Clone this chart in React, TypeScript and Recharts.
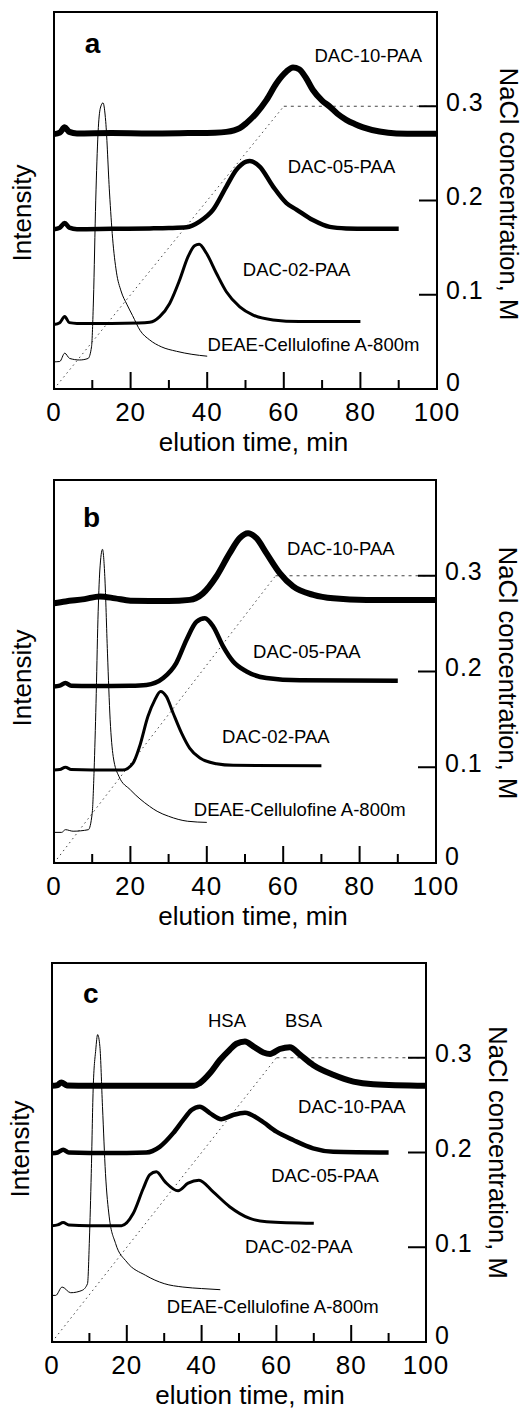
import React from 'react';
import { ComposedChart, Line, XAxis, YAxis, ReferenceDot, Label } from 'recharts';

type Pt = [number, number];

const FONT = '"Liberation Sans", Arial, Helvetica, sans-serif';

// ---------- axes ----------
const timeTicks = [0, 10, 20, 30, 40, 50, 60, 70, 80, 90, 100];
const timeTickLabels = ['0', '', '20', '', '40', '', '60', '', '80', '', '100'];
const naclTicks = [0, 0.1, 0.2, 0.3];
const naclTickLabels = ['0', '0.1', '0.2', '0.3'];

// ---------- panel a ----------
const aDEAE: Pt[] = [[0, 7.2], [1.5, 7.3], [2.8, 9.5], [4.1, 8.1], [6.7, 7.7], [8.9, 8.1], [9.8, 11.2], [10.3, 23.6], [10.9, 50.1], [11.5, 67.9], [12.1, 74.5], [12.8, 75.9], [13.5, 71], [14.5, 52], [15.3, 40], [16.3, 31], [17.5, 26], [19, 22.5], [20.5, 19.5], [22.5, 15.5], [25, 13], [28, 11.2], [32, 10], [36, 9.2], [40, 8.7]];
const aDAC02: Pt[] = [[0, 17.1], [1.5, 17.6], [2.8, 19.2], [4, 17.6], [6, 17.4], [15, 17.4], [22, 17.5], [25, 17.7], [27.6, 19.2], [30.2, 22.7], [32.8, 28.9], [35, 35.1], [36.7, 38], [37.9, 38.4], [39.8, 36], [42.4, 30.7], [45, 25.8], [48.5, 21.8], [52, 19.6], [57.2, 18.3], [64, 17.9], [80, 17.9]];
const aDAC05: Pt[] = [[0, 42.4], [1.5, 42.8], [2.8, 44], [4, 42.8], [6, 42.4], [15, 42.5], [25, 42.6], [30, 42.7], [34.6, 42.9], [38, 44.4], [41.5, 47.5], [45, 53.7], [47.6, 58.1], [50.2, 60.3], [51.1, 60.5], [53.7, 59], [57.2, 53.7], [60.7, 49.3], [63.3, 47.6], [67.6, 44.8], [72, 43], [76.3, 42.6], [82, 42.5], [90, 42.5]];
const aDAC10: Pt[] = [[0, 67.6], [1.5, 68], [2.8, 69.4], [4, 68.2], [6, 67.8], [15, 67.9], [25, 67.8], [35, 67.9], [42, 68], [45, 68.2], [48.5, 69.2], [50.2, 70.5], [52.8, 73.1], [55.5, 76.7], [58.1, 81.1], [60.7, 84.2], [62.4, 85.3], [64, 84.8], [65.8, 82.5], [67.6, 79.3], [70, 76.5], [72, 74.9], [74, 73], [76.3, 71.4], [78.5, 70.3], [80.7, 69.4], [85, 68.3], [89.4, 67.8], [95, 67.7], [100, 67.7]];
const aNaClRamp: Pt[] = [[0, 0], [60, 0.3]];
const aNaClHold: Pt[] = [[60, 0.3], [100, 0.3]];

// ---------- panel b ----------
const bDEAE: Pt[] = [[0, 8], [2, 8], [3, 8.7], [5, 8.3], [9, 8.7], [10, 13], [10.5, 24.3], [11, 41.7], [11.5, 63.5], [12, 76.5], [12.7, 81.9], [13.3, 74.8], [14, 54.8], [14.7, 37.4], [15.5, 27.8], [17, 22.6], [20, 19.1], [25, 14.8], [27, 13.5], [30, 12.2], [35, 10.9], [40, 10.6]];
const bDAC02: Pt[] = [[0, 24.3], [1.5, 24.4], [3, 25], [4.5, 24.4], [10, 24.3], [18, 24.3], [20.7, 26.1], [22.4, 30.4], [24.6, 38.3], [26.4, 42.6], [27.9, 44.8], [29.4, 43.5], [31.2, 39.1], [33.4, 33.9], [35.5, 30], [38.2, 27.4], [42.5, 25.9], [46.9, 25.5], [70, 25.4]];
const bDAC05: Pt[] = [[0, 46.1], [1.5, 46.3], [3, 47], [4.5, 46.3], [10, 46.2], [20, 46.3], [24.2, 46.5], [28.6, 48.3], [32, 52.2], [34.7, 58.3], [37.3, 63], [39.5, 63.9], [41.7, 61.7], [44.3, 56.5], [46.9, 52.6], [50.4, 50], [55.6, 48.3], [64.4, 47.7], [90, 47.6]];
const bDAC10: Pt[] = [[0, 67.8], [3, 68.3], [8, 68.9], [12, 69.6], [16, 69.1], [20, 68.5], [30, 68.4], [35.5, 68.7], [39, 70.4], [42.5, 74.8], [46, 80.9], [48.6, 84.8], [50.8, 86.1], [53, 84.8], [55.6, 80.9], [59.1, 75.7], [62.6, 72.2], [67.9, 70], [73.1, 69.1], [81.8, 68.7], [100, 68.7]];
const bNaClRamp: Pt[] = [[0, 0], [58, 0.3]];
const bNaClHold: Pt[] = [[58, 0.3], [100, 0.3]];

// ---------- panel c ----------
const cDEAE: Pt[] = [[0, 12.3], [1, 12.3], [2.7, 14.5], [5, 13], [8, 13.6], [9.5, 15.4], [10, 26.9], [10.5, 44.5], [11, 66.5], [11.7, 77.1], [12.2, 81.1], [12.8, 78], [13.5, 62.1], [14.3, 44.5], [15.3, 33], [17, 26], [20, 21.1], [25, 17.6], [30, 15.4], [35, 14.5], [40, 14.1], [45, 13.8]];
const cDAC02: Pt[] = [[0, 30.7], [1.5, 30.9], [3, 31.5], [4.5, 30.9], [10, 30.7], [18.6, 30.7], [21.7, 33.9], [24.4, 40.5], [26.1, 44.1], [27.9, 44.9], [30.2, 42.3], [33.7, 39.9], [36.4, 41.9], [39.3, 42.7], [43.1, 39.6], [47.5, 35.7], [52.9, 32.6], [57.4, 31.7], [70, 31.3]];
const cDAC05: Pt[] = [[0, 49.8], [1.5, 50], [3, 50.7], [4.5, 50], [10, 49.9], [20, 49.9], [25.2, 50], [28.8, 51.5], [32.4, 55.1], [35.1, 58.6], [37.3, 61.2], [39.5, 62.1], [42.2, 60.4], [45.3, 58.8], [48.4, 59.9], [51.6, 60.5], [55.6, 58.6], [60, 55.5], [64.5, 53.3], [69.8, 51.1], [75.2, 50.2], [90, 50]];
const cDAC10: Pt[] = [[0, 67.6], [1.5, 67.8], [2.5, 68.5], [4, 67.7], [10, 67.6], [20, 67.6], [30, 67.6], [38, 67.6], [39.5, 68.3], [42.2, 70.9], [44.9, 74.4], [47.5, 77.1], [49.3, 78.7], [51.6, 79.3], [53.8, 78], [56.5, 76.4], [58.3, 76], [60.9, 77.3], [63.6, 77.8], [66.3, 75.8], [69.8, 73.1], [75.2, 70.5], [80.6, 68.7], [85.9, 68], [100, 67.6]];
const cNaClRamp: Pt[] = [[0, 0], [60, 0.3]];
const cNaClHold: Pt[] = [[60, 0.3], [100, 0.3]];

// ---------- annotations (text, time, intensity) ----------
type Note = { text: string; t: number; v: number; bold?: boolean };
const aNotes: Note[] = [
  { text: 'a', t: 8.0, v: 89.1, bold: true },
  { text: 'DAC-10-PAA', t: 68, v: 86.8 },
  { text: 'DAC-05-PAA', t: 61, v: 57.3 },
  { text: 'DAC-02-PAA', t: 49.3, v: 30 },
  { text: 'DEAE-Cellulofine A-800m', t: 40.1, v: 10.1 },
];
const bNotes: Note[] = [
  { text: 'b', t: 7.6, v: 87.7, bold: true },
  { text: 'DAC-10-PAA', t: 61, v: 80.4 },
  { text: 'DAC-05-PAA', t: 52.1, v: 53.5 },
  { text: 'DAC-02-PAA', t: 44, v: 31.3 },
  { text: 'DEAE-Cellulofine A-800m', t: 36.6, v: 12.3 },
];
const cNotes: Note[] = [
  { text: 'c', t: 8.3, v: 89.4, bold: true },
  { text: 'HSA', t: 41.7, v: 83.1 },
  { text: 'BSA', t: 62.3, v: 83.1 },
  { text: 'DAC-10-PAA', t: 65.8, v: 60.4 },
  { text: 'DAC-05-PAA', t: 58.6, v: 42.2 },
  { text: 'DAC-02-PAA', t: 51.6, v: 23.5 },
  { text: 'DEAE-Cellulofine A-800m', t: 30.7, v: 7.7 },
];

const toRows = (pts: Pt[]) => pts.map(([t, v]) => ({ t, v }));

const BottomTick = (props: any) => {
  const { x, y, payload } = props;
  const val = payload.value;
  const idx = timeTicks.findIndex((d) => Math.abs(d - val) < 1e-9);
  const label = idx >= 0 ? timeTickLabels[idx] : '';
  const major = label !== '';
  const inner = val > 0 && val < 100;
  return (
    <g>
      {inner && <line x1={x} x2={x} y1={y} y2={y - (major ? 17 : 9)} stroke="#000" strokeWidth={2} />}
      {major && (
        <text x={x} y={y + 32} textAnchor="middle" fontSize={26} fontFamily={FONT} letterSpacing={1} fill="#000">
          {label}
        </text>
      )}
    </g>
  );
};

const RightTick = (props: any) => {
  const { x, y, payload } = props;
  const idx = naclTicks.findIndex((d) => Math.abs(d - payload.value) < 1e-9);
  const isZero = payload.value === 0;
  return (
    <g>
      {!isZero && <line x1={x} x2={x - 18} y1={y} y2={y} stroke="#000" strokeWidth={2} />}
      <text x={x + 9} y={y + (isZero ? 2 : 4.5)} fontSize={25} fontFamily={FONT} letterSpacing={1} fill="#000">
        {naclTickLabels[idx]}
      </text>
    </g>
  );
};

type Frame = { left: number; right: number; top: number; bottom: number };

type PanelProps = {
  frame: Frame;
  deae: Pt[];
  dac02: Pt[];
  dac05: Pt[];
  dac10: Pt[];
  ramp: Pt[];
  hold: Pt[];
  notes: Note[];
  intDy: number;
  naclDy: number;
  xDx: number;
};

const axisLineStyle = { stroke: '#000', strokeWidth: 2, strokeLinecap: 'square' as const };

const W = 524;
const H = 470;

function Panel(p: PanelProps) {
  const rampRows = p.ramp.map(([t, c]) => ({ t, c }));
  const holdRows = p.hold.map(([t, c]) => ({ t, c }));
  // axes take 1px bands; margins place the plot frame at the measured pixel box
  const margin = {
    left: p.frame.left - 1,
    right: W - p.frame.right - 1,
    top: p.frame.top - 1,
    bottom: H - p.frame.bottom - 1,
  };
  return (
    <ComposedChart width={W} height={H} margin={margin}>
      <XAxis
        xAxisId="x"
        type="number"
        dataKey="t"
        domain={[0, 100]}
        ticks={timeTicks}
        interval={0}
        height={1}
        tickSize={0}
        tickMargin={0}
        tickLine={false}
        axisLine={axisLineStyle}
        tick={<BottomTick />}
      >
        <Label
          content={(lp: any) => {
            const vb = lp.viewBox || { x: 0, y: 0, width: 0, height: 0 };
            return (
              <text x={vb.x + vb.width / 2 + p.xDx} y={vb.y + 62} textAnchor="middle" fontSize={26} fontFamily={FONT} fill="#000">
                elution time, min
              </text>
            );
          }}
        />
      </XAxis>
      <XAxis xAxisId="top" orientation="top" type="number" dataKey="t" domain={[0, 100]} height={1} tick={false} tickLine={false} axisLine={axisLineStyle} />
      <YAxis yAxisId="int" orientation="left" type="number" domain={[0, 100]} width={1} tick={false} tickLine={false} axisLine={axisLineStyle}>
        <Label
          content={(lp: any) => {
            const vb = lp.viewBox || { x: 0, y: 0, width: 0, height: 0 };
            const cx = vb.x + vb.width - 23;
            const cy = vb.y + vb.height / 2 + p.intDy;
            return (
              <text x={cx} y={cy} transform={`rotate(-90 ${cx} ${cy})`} textAnchor="middle" fontSize={26} fontFamily={FONT} fill="#000">
                Intensity
              </text>
            );
          }}
        />
      </YAxis>
      <YAxis
        yAxisId="nacl"
        orientation="right"
        type="number"
        domain={[0, 0.4]}
        ticks={naclTicks}
        interval={0}
        width={1}
        tickSize={0}
        tickMargin={0}
        tickLine={false}
        axisLine={axisLineStyle}
        tick={<RightTick />}
      >
        <Label
          content={(lp: any) => {
            const vb = lp.viewBox || { x: 0, y: 0, width: 0, height: 0 };
            const cx = vb.x + 63;
            const cy = vb.y + vb.height / 2 + p.naclDy;
            return (
              <text x={cx} y={cy} transform={`rotate(90 ${cx} ${cy})`} textAnchor="middle" fontSize={25.5} fontFamily={FONT} fill="#000">
                NaCl concentration, M
              </text>
            );
          }}
        />
      </YAxis>

      <Line xAxisId="x" yAxisId="nacl" data={rampRows} dataKey="c" type="linear" stroke="#444" strokeWidth={1} strokeDasharray="1.5 3.5" dot={false} activeDot={false} isAnimationActive={false} />
      <Line xAxisId="x" yAxisId="nacl" data={holdRows} dataKey="c" type="linear" stroke="#444" strokeWidth={1} strokeDasharray="3 4" dot={false} activeDot={false} isAnimationActive={false} />

      <Line xAxisId="x" yAxisId="int" data={toRows(p.deae)} dataKey="v" type="monotone" stroke="#000" strokeWidth={1} dot={false} activeDot={false} isAnimationActive={false} />
      <Line xAxisId="x" yAxisId="int" data={toRows(p.dac02)} dataKey="v" type="monotone" stroke="#000" strokeWidth={3} dot={false} activeDot={false} isAnimationActive={false} />
      <Line xAxisId="x" yAxisId="int" data={toRows(p.dac05)} dataKey="v" type="monotone" stroke="#000" strokeWidth={4.5} dot={false} activeDot={false} isAnimationActive={false} />
      <Line xAxisId="x" yAxisId="int" data={toRows(p.dac10)} dataKey="v" type="monotone" stroke="#000" strokeWidth={6} dot={false} activeDot={false} isAnimationActive={false} />

      {p.notes.map((n, i) => (
        <ReferenceDot
          key={i}
          xAxisId="x"
          yAxisId="int"
          x={n.t}
          y={n.v}
          r={1}
          ifOverflow="visible"
          shape={(sp: any) => (
            <text
              x={sp.cx}
              y={sp.cy}
              fontSize={n.bold ? 28 : 18.5}
              fontWeight={n.bold ? 'bold' : 'normal'}
              fontFamily={FONT}
              fill="#000"
            >
              {n.text}
            </text>
          )}
        />
      ))}
    </ComposedChart>
  );
}

export default function App() {
  return (
    <div style={{ position: 'absolute', left: 0, top: 0, width: 524, height: 1410, background: '#fff' }}>
      <div style={{ position: 'absolute', left: 0, top: 0 }}>
        <Panel frame={{ left: 54, right: 437, top: 12, bottom: 389 }} deae={aDEAE} dac02={aDAC02} dac05={aDAC05} dac10={aDAC10} ramp={aNaClRamp} hold={aNaClHold} notes={aNotes} intDy={12.5} naclDy={-6.5} xDx={8} />
      </div>
      <div style={{ position: 'absolute', left: 0, top: 470 }}>
        <Panel frame={{ left: 54, right: 436, top: 10, bottom: 393 }} deae={bDEAE} dac02={bDAC02} dac05={bDAC05} dac10={bDAC10} ramp={bNaClRamp} hold={bNaClHold} notes={bNotes} intDy={6.5} naclDy={1.5} xDx={8} />
      </div>
      <div style={{ position: 'absolute', left: 0, top: 940 }}>
        <Panel frame={{ left: 52, right: 426, top: 23, bottom: 402 }} deae={cDEAE} dac02={cDAC02} dac05={cDAC05} dac10={cDAC10} ramp={cNaClRamp} hold={cNaClHold} notes={cNotes} intDy={-3.5} naclDy={0} xDx={11} />
      </div>
    </div>
  );
}
